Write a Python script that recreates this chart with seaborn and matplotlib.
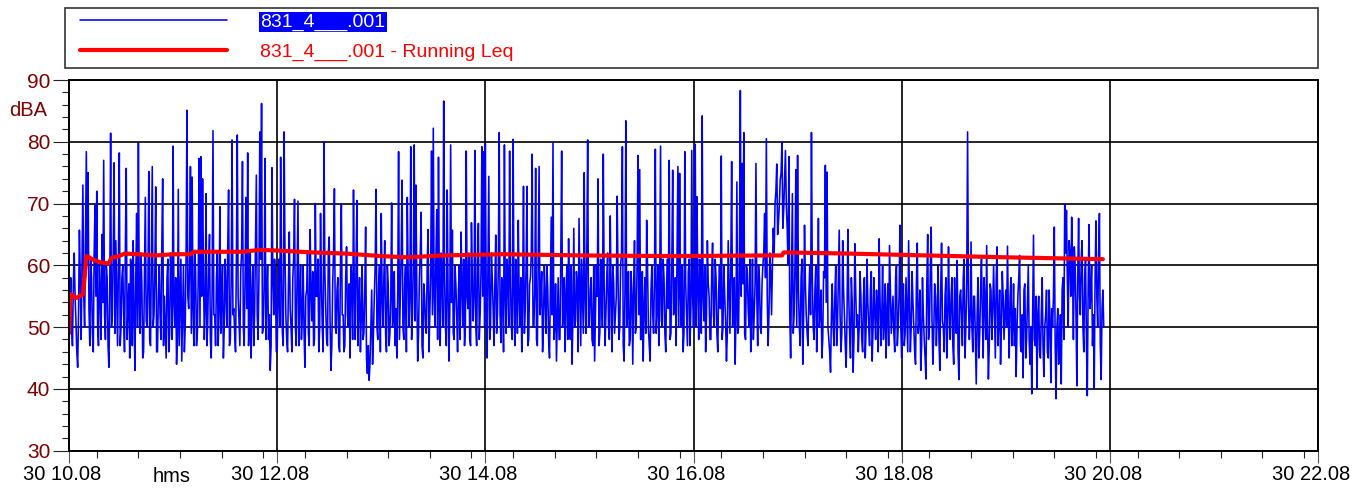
import numpy as np
import pandas as pd
import matplotlib
matplotlib.use("Agg")
import matplotlib.pyplot as plt
import matplotlib.transforms as mtransforms
from matplotlib.patches import Rectangle
from matplotlib.ticker import FixedLocator, MultipleLocator
import seaborn as sns

# ---------------- data ----------------
start_hour = 10 + 8 / 60          # 30 10:08
series_label = "831_4___.001"
leq_label = "831_4___.001 - Running Leq"

# dBA readings on the whole minute (10:08 ... ~20:04)
blue_vals = [
    49, 58, 47, 62, 51, 43.5, 65.7, 48, 73, 50, 78.4, 75, 47, 58, 46, 69.7, 72, 47, 56, 65,
    77, 48, 58, 43.5, 81.4, 52, 76.6, 64, 47, 78.2, 50, 60, 46, 75.7, 53, 45, 59, 64, 43, 68.4,
    79.8, 49, 57, 46, 71, 50, 75.2, 47, 76, 52, 72.7, 46, 60, 48, 74, 55, 45, 61, 49, 57,
    79.3, 50, 44, 72.3, 54, 44.5, 60, 50, 85.1, 53, 76, 74.3, 47, 59, 49, 77.3, 77.6, 74, 48, 71.6,
    51, 65, 45, 81.8, 52, 58, 47, 69.5, 55, 45, 61, 50, 72.2, 48, 80.3, 53, 46, 81.1, 51, 59,
    76.8, 47, 71, 78.2, 50, 45, 60, 52, 74.6, 48, 81.6, 86.2, 50, 77.3, 55, 48, 43, 75.8, 52, 58,
    46, 61, 77.5, 49, 81.6, 52, 46, 65.4, 50, 58, 70.7, 47, 70.4, 55, 48, 60, 43.5, 56, 49, 65.8,
    51, 47, 70, 55, 46, 68.4, 50, 80, 53, 47, 64.6, 43, 57, 72.4, 49, 58, 46, 69.9, 52, 47,
    63, 50, 45, 58, 72.2, 48, 70.5, 53, 46, 60, 49, 66.2, 42.5, 41.4, 50, 44, 55, 72.3, 48, 60,
    68.4, 50, 64, 46, 57, 49, 70.1, 52, 47, 45, 78.4, 55, 73.8, 48, 60, 71, 50, 79.2, 52, 79.5,
    73, 44.5, 58, 68.6, 45, 55, 49, 65.8, 52, 78.5, 82.2, 50, 69, 77.5, 47, 58, 86.6, 50, 72.2, 44.5,
    79.5, 65.7, 48, 57, 46, 60, 65.4, 50, 47, 78.5, 53, 48, 66.9, 51, 78.6, 47, 66.8, 52, 79.2, 78.4,
    79.7, 45, 74.4, 50, 58, 47, 64.9, 52, 81.5, 47.5, 56, 79.5, 49, 58, 78.5, 50, 80.4, 47, 57, 67.3,
    50, 46, 72.8, 53, 72.8, 48, 58, 78, 50, 75.7, 47, 76, 55, 46, 60, 49, 56, 45, 67.8, 80,
    50, 44.5, 58, 48, 78.5, 52, 46, 60, 64.3, 48, 44, 66, 51, 57, 67.6, 47, 55, 75, 49, 80.3,
    50, 58, 47, 44.5, 60, 74, 49, 55, 78, 47, 58, 50, 68, 46, 57, 52, 71.2, 48, 60, 79.2,
    44.5, 83.4, 52, 47, 59, 44, 64, 50, 77.8, 75.5, 48, 44.5, 58, 67.3, 50, 44.5, 60, 49, 78.8, 53,
    47, 79.3, 50, 58, 46, 61, 77, 49, 75.4, 53, 47, 76, 74.9, 50, 46, 78.4, 52, 59, 47, 78.6,
    50, 79.6, 71.1, 48, 57, 84.2, 51, 46, 64, 55, 48, 63.6, 50, 58, 46, 60, 77.7, 50, 55, 44.5,
    64, 49, 76.8, 52, 44, 73.5, 50, 88.3, 76.5, 81.5, 48, 59, 50, 46, 61, 52, 76.5, 47, 58, 49,
    60, 68.4, 80.5, 47, 62, 52, 66, 70, 76.4, 67, 73.8, 80, 69, 78.6, 66, 77.6, 45, 71.6, 52, 75.5,
    77.8, 50, 58, 44, 66.5, 52, 47, 60, 81.5, 50, 56, 46, 67.6, 52, 45, 59, 76.2, 75.1, 48, 42.7,
    57, 47, 60, 50, 65.7, 46, 64, 52, 43.5, 65.8, 49, 58, 42.7, 63.5, 50, 46, 59, 48, 55, 45,
    61, 50, 56, 44.5, 58, 48, 53, 64.3, 47, 60, 51, 45, 57, 63.2, 49, 55, 46, 60, 50, 66.5,
    45, 57, 49, 52, 64, 46, 59, 50, 44, 63.6, 51, 43, 58, 48, 41.6, 65, 50, 66.2, 44, 57,
    47, 60, 43, 63.6, 50, 55, 45, 63, 48, 58, 44, 52, 60.8, 41.5, 56, 47, 61, 50, 81.6, 48,
    63.8, 46, 55, 40.8, 58, 49, 61, 45, 54, 63.2, 41.6, 57, 48, 60, 45, 63, 51, 44, 59, 48,
    56, 63.1, 45, 58, 50, 47, 42, 55, 61.6, 46, 41.8, 57, 48, 60, 44, 39.2, 64.9, 47, 40, 55,
    45, 58, 42, 52, 46, 56, 41, 50, 66.2, 38.4, 53, 46, 40.8, 58, 69.9, 68.9, 50, 62, 67.8, 48,
    60, 40.5, 67.6, 52, 64, 46, 61, 38.9, 66.6, 55, 47, 40, 67.2, 50, 68.4, 41.5, 56,
]

# dBA readings on the half minute (between the values above)
blue_half_vals = [
    53, 50, 57, 55, 46, 52, 58, 61, 55, 64, 60, 53, 61, 49, 62, 55, 50, 60, 48, 54,
    52, 60, 47, 56, 50, 62, 49, 55, 61, 47, 58, 52, 63, 48, 57, 61, 47, 52, 58, 50,
    55, 62, 45, 59, 51, 57, 48, 62, 50, 59, 46, 55, 52, 63, 47, 50, 58, 46, 62, 48,
    54, 58, 49, 47, 61, 52, 46, 62, 55, 60, 49, 53, 62, 47, 58, 50, 55, 60, 53, 47,
    60, 48, 56, 52, 47, 62, 53, 49, 60, 50, 56, 63, 47, 58, 52, 49, 61, 55, 47, 62,
    50, 58, 53, 47, 62, 55, 47, 63, 52, 58, 61, 49, 57, 48, 60, 52, 47, 58, 61, 46,
    55, 50, 59, 47, 62, 48, 57, 53, 46, 61, 50, 58, 47, 60, 52, 49, 55, 62, 47, 56,
    59, 48, 55, 61, 50, 57, 46, 59, 48, 62, 51, 47, 62, 50, 56, 47, 60, 52, 46, 58,
    52, 57, 60, 48, 55, 61, 47, 58, 52, 48, 56, 45, 47, 44, 56, 49, 60, 50, 57, 46,
    55, 58, 49, 60, 47, 55, 50, 59, 53, 56, 48, 62, 50, 57, 46, 59, 55, 48, 60, 51,
    56, 49, 62, 47, 57, 50, 60, 46, 59, 52, 55, 61, 48, 55, 62, 50, 58, 47, 56, 52,
    54, 49, 60, 52, 56, 48, 57, 61, 50, 55, 62, 47, 58, 55, 50, 61, 48, 59, 55, 50,
    56, 60, 48, 62, 53, 57, 49, 60, 52, 58, 46, 55, 61, 50, 57, 48, 56, 61, 49, 55,
    58, 55, 49, 60, 47, 57, 62, 50, 56, 48, 61, 52, 59, 50, 55, 60, 48, 57, 52, 48,
    57, 51, 48, 61, 50, 58, 55, 48, 53, 60, 52, 50, 59, 46, 57, 61, 49, 55, 62, 50,
    56, 48, 60, 52, 55, 47, 61, 50, 57, 52, 62, 48, 56, 60, 49, 55, 58, 50, 62, 47,
    56, 50, 59, 48, 55, 57, 49, 61, 52, 48, 59, 53, 49, 60, 47, 56, 52, 58, 49, 60,
    55, 51, 61, 49, 57, 53, 48, 60, 52, 58, 62, 50, 55, 60, 49, 57, 47, 61, 53, 55,
    58, 50, 56, 61, 49, 55, 60, 52, 57, 48, 59, 52, 61, 49, 56, 53, 48, 60, 51, 49,
    56, 60, 50, 58, 52, 49, 62, 55, 57, 49, 60, 53, 61, 52, 48, 57, 55, 60, 50, 57,
    62, 58, 55, 52, 59, 60, 62, 72, 65, 70, 75, 66, 74, 70, 60, 52, 58, 49, 60, 50,
    56, 47, 61, 52, 57, 49, 55, 52, 58, 48, 60, 53, 50, 56, 48, 58, 54, 50, 46, 52,
    50, 55, 47, 58, 52, 49, 56, 47, 52, 55, 45, 54, 48, 56, 52, 50, 55, 46, 58, 50,
    54, 47, 59, 50, 52, 56, 46, 55, 51, 48, 57, 52, 47, 56, 52, 49, 58, 47, 55, 50,
    52, 47, 58, 46, 55, 50, 54, 46, 57, 49, 56, 47, 52, 45, 57, 48, 59, 51, 49, 55,
    52, 48, 56, 51, 46, 58, 50, 53, 55, 47, 58, 49, 46, 55, 52, 58, 45, 57, 54, 52,
    50, 55, 48, 52, 45, 56, 52, 58, 48, 50, 47, 56, 53, 52, 58, 47, 56, 50, 55, 52,
    50, 52, 55, 47, 57, 53, 50, 58, 47, 52, 56, 45, 54, 48, 50, 52, 48, 55, 52, 46,
    52, 47, 50, 56, 45, 51, 53, 55, 47, 50, 44, 52, 56, 48, 62, 58, 64, 55, 60, 63,
    52, 58, 55, 61, 50, 58, 48, 56, 53, 60, 52, 58, 55, 61, 47, 53, 50,
]

# Running Leq (minute offset from 10:08, dBA)
leq_minutes = [0, 1, 2, 4, 6, 8, 9, 10, 11, 14, 17, 20, 23, 24, 25, 28, 32, 40, 50, 60,
               70, 72, 85, 100, 110, 120, 140, 160, 180, 195, 215, 250, 297, 350, 400,
               411, 412, 450, 495, 540, 596]
leq_vals = [49, 55.3, 55.2, 54.7, 55, 55.3, 58, 61.5, 61.4, 60.9, 60.6, 60.4, 60.3, 61.0,
            61.3, 61.4, 61.9, 61.8, 61.6, 61.8, 61.8, 62.2, 62.2, 62.2, 62.5, 62.4, 62.1,
            61.9, 61.5, 61.3, 61.6, 61.8, 61.6, 61.5, 61.6, 61.6, 62.1, 61.9, 61.6, 61.3,
            61.0]

x_tick_labels = ["30 10.08", "30 12.08", "30 14.08", "30 16.08",
                 "30 18.08", "30 20.08", "30 22.08"]
y_ticks = [30, 40, 50, 60, 70, 80, 90]

# ---------------- figure ----------------
sns.set_style("white")
plt.rcParams["font.family"] = ["Liberation Sans", "DejaVu Sans"]
plt.rcParams["font.size"] = 14

W, H = 1369, 492
fig = plt.figure(figsize=(W / 100, H / 100), dpi=100)
ax_l, ax_r, ax_t, ax_b = 69, 1318, 80, 450.7
ax = fig.add_axes([ax_l / W, 1 - ax_b / H, (ax_r - ax_l) / W, (ax_b - ax_t) / H])

minutes = np.arange(len(blue_vals))
half_minutes = np.arange(len(blue_half_vals)) + 0.5
df = pd.DataFrame({
    "hour": start_hour + np.concatenate([minutes, half_minutes]) / 60.0,
    "dBA": list(blue_vals) + list(blue_half_vals),
}).sort_values("hour")
df_leq = pd.DataFrame({"hour": start_hour + np.array(leq_minutes) / 60.0, "dBA": leq_vals})

sns.lineplot(data=df, x="hour", y="dBA", color="#0000FF", lw=1.15,
             estimator=None, sort=False, ax=ax, label=series_label)
sns.lineplot(data=df_leq, x="hour", y="dBA", color="#FF0000", lw=3.0,
             estimator=None, sort=False, ax=ax, label=leq_label)

dark_red = "#800000"
xt = [start_hour + 2 * k for k in range(len(x_tick_labels))]
ax.set_xlim(xt[0], xt[-1])
ax.set_ylim(y_ticks[0], y_ticks[-1])
ax.xaxis.set_major_locator(FixedLocator(xt))
ax.xaxis.set_minor_locator(MultipleLocator(0.4))
ax.set_xticklabels(x_tick_labels)
ax.yaxis.set_major_locator(FixedLocator(y_ticks))
ax.yaxis.set_minor_locator(MultipleLocator(2))
ax.set_yticklabels([str(v) for v in y_ticks])

ax.tick_params(axis="y", which="major", length=11.5, width=0.8, color="#222222",
               labelcolor=dark_red, labelsize=15, pad=2)
ax.tick_params(axis="y", which="minor", length=5, width=0.8, color="#222222")
ax.tick_params(axis="x", which="major", length=8.5, width=0.8, color="#555555",
               labelcolor="black", labelsize=14.5, pad=2)
ax.tick_params(axis="x", which="minor", length=5, width=0.8, color="#222222")
ax.tick_params(which="both", direction="out", bottom=True, left=True)

off = mtransforms.ScaledTranslation(-7 / 100, 0, fig.dpi_scale_trans)
for lab in ax.get_xticklabels():
    lab.set_transform(lab.get_transform() + off)

ax.grid(True, which="major", color="black", lw=1.2)
ax.set_axisbelow(True)
for s in ax.spines.values():
    s.set_color("black")
    s.set_linewidth(1.4)

ax.set_xlabel("hms", fontsize=14.5, color="black")
ax.xaxis.set_label_coords((172 - ax_l) / (ax_r - ax_l), (ax_b - 476) / (ax_b - ax_t))
ax.xaxis.label.set_va("center")
ax.set_ylabel("dBA", fontsize=14.5, color=dark_red, rotation=0)
ax.yaxis.set_label_coords((28 - ax_l) / (ax_r - ax_l), (ax_b - 111) / (ax_b - ax_t))
ax.yaxis.label.set_va("center")
ax.yaxis.label.set_ha("center")

# legend box across the top
handles, labels = ax.get_legend_handles_labels()
ax.get_legend().remove()
fs = 14
fpx = fs * 100 / 72
leg = fig.legend(handles, labels, loc="upper left",
                 bbox_to_anchor=(80 / W, 1 - 13 / H), bbox_transform=fig.transFigure,
                 frameon=False, fontsize=fs, borderpad=0, borderaxespad=0,
                 handlelength=147 / fpx, handletextpad=1.7, labelspacing=0.62)
t0, t1 = leg.get_texts()
t0.set_color("white")
t0.set_bbox(dict(boxstyle="square,pad=0.08", fc="#0000FF", ec="none"))
t1.set_color("#FF0000")
fig.patches.append(Rectangle((65 / W, 1 - 68 / H), (1318 - 65) / W, 60 / H,
                             transform=fig.transFigure, fill=False,
                             ec="#333333", lw=1.2))

fig.savefig("out.png", dpi=100)
